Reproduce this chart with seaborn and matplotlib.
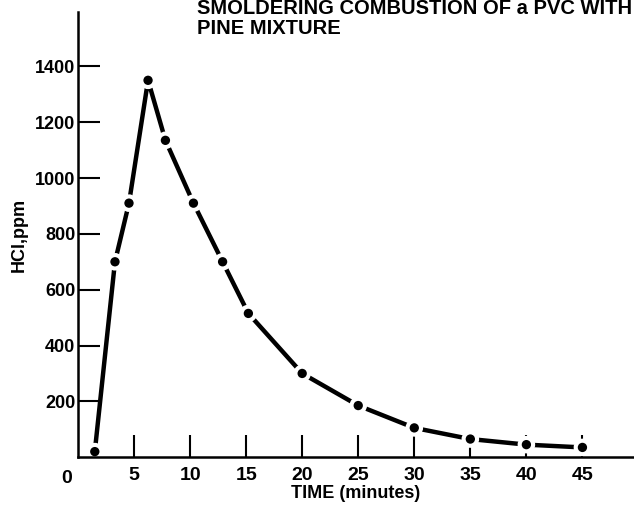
import pandas as pd
import matplotlib.pyplot as plt
import seaborn as sns

#########################################################
# DATA
#########################################################

time_min = [1.5, 3.3, 4.55, 6.25, 7.8, 10.3, 12.9, 15.2, 20, 25, 30, 35, 40, 45]
hcl_ppm = [20, 700, 910, 1350, 1135, 910, 700, 515, 300, 185, 105, 65, 45, 35]

x_ticks = [5, 10, 15, 20, 25, 30, 35, 40, 45]
y_ticks = [200, 400, 600, 800, 1000, 1200, 1400]

title_lines = ["SMOLDERING COMBUSTION OF a PVC WITH", "PINE MIXTURE"]

df = pd.DataFrame({"time": time_min, "hcl": hcl_ppm})

#########################################################
# STYLE
#########################################################

sns.set_style("white")
plt.rcParams["font.family"] = ["Liberation Sans", "DejaVu Sans"]
plt.rcParams["font.weight"] = "bold"
plt.rcParams["text.color"] = "black"
plt.rcParams["axes.labelcolor"] = "black"

fig = plt.figure(figsize=(6.34, 5.08), dpi=100)
ax = fig.add_axes([0.123, 0.100, 0.877, 0.876])

#########################################################
# PLOT
#########################################################

sns.lineplot(data=df, x="time", y="hcl", color="black", linewidth=3.2,
             ax=ax, zorder=2)
# white rings knock the line out around each point
sns.scatterplot(data=df, x="time", y="hcl", color="white", s=160,
                edgecolor="none", ax=ax, zorder=2.2)
sns.scatterplot(data=df, x="time", y="hcl", color="black", s=45,
                edgecolor="none", ax=ax, zorder=3)

ax.set_xlim(0, 49.6)
ax.set_ylim(0, 1594)

ax.set_xticks(x_ticks)
ax.set_xticklabels([str(v) for v in x_ticks])
ax.set_yticks(y_ticks)
ax.set_yticklabels([str(v) for v in y_ticks])

ax.tick_params(axis="x", bottom=True, direction="in", length=16, width=1.5,
               pad=7, labelsize=14, colors="black")
ax.tick_params(axis="y", left=True, direction="in", length=16, width=1.5,
               pad=2, labelsize=13, colors="black")
ax.annotate("0", xy=(0, 0), xycoords="data", xytext=(-8, -15),
            textcoords="offset points", ha="center", va="center",
            fontsize=14, fontweight="bold")

for side in ["top", "right"]:
    ax.spines[side].set_visible(False)
for side in ["left", "bottom"]:
    ax.spines[side].set_linewidth(1.8)
    ax.spines[side].set_color("black")
    ax.spines[side].set_zorder(2.5)

ax.set_xlabel("TIME (minutes)", fontsize=13, fontweight="bold", labelpad=1)
ax.set_ylabel("HCl,ppm", fontsize=13, fontweight="bold", labelpad=5)

fig.text(0.311, 0.972, title_lines[0], fontsize=14.5, fontweight="bold",
         va="baseline")
fig.text(0.311, 0.934, title_lines[1], fontsize=14.5, fontweight="bold",
         va="baseline")

plt.savefig("out.png", dpi=100)
